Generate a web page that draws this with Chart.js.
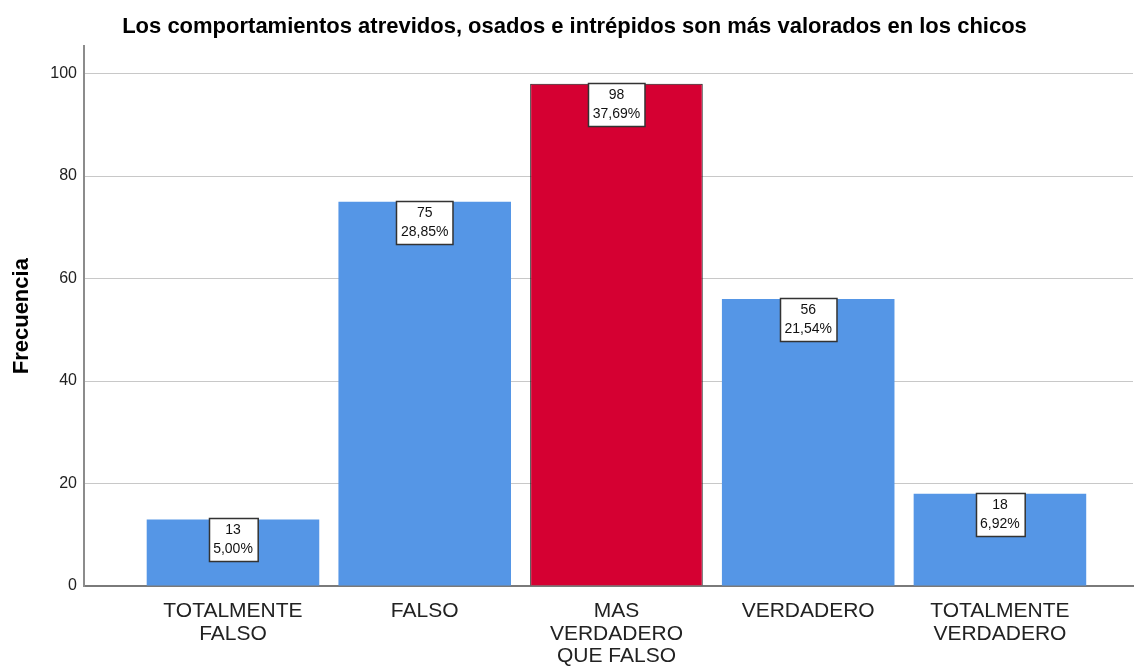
<!DOCTYPE html>
<html>
<head>
<meta charset="utf-8">
<script src="https://cdn.jsdelivr.net/npm/chart.js@4.4.1/dist/chart.umd.min.js"></script>
<style>
  body { margin: 0; background: #fff; }
</style>
</head>
<body>
<canvas id="barChart" width="1134" height="666"></canvas>
<script>
var categories = [
    ['TOTALMENTE', 'FALSO'],
    ['FALSO'],
    ['MAS', 'VERDADERO', 'QUE FALSO'],
    ['VERDADERO'],
    ['TOTALMENTE', 'VERDADERO']
];
var frecuencias = [13, 75, 98, 56, 18];
var yTicks = [0, 20, 40, 60, 80, 100];
var barColors = ['#5596e6', '#5596e6', '#d50032', '#5596e6', '#5596e6'];

var total = frecuencias.reduce(function (a, b) { return a + b; }, 0);
var porcentajes = frecuencias.map(function (v) {
    return (v / total * 100).toFixed(2).replace('.', ',') + '%';
});

var fuente = "'Liberation Sans', Arial, sans-serif";

// cajas blancas con frecuencia y porcentaje
var etiquetas = {
    id: 'etiquetas',
    afterDatasetsDraw: function (chart) {
        var c = chart.ctx;
        var meta = chart.getDatasetMeta(0);
        c.save();
        c.font = '14px ' + fuente;
        meta.data.forEach(function (bar, i) {
            var l1 = String(frecuencias[i]);
            var l2 = porcentajes[i];
            var w = Math.max(c.measureText(l1).width, c.measureText(l2).width) + 9;
            var h = 43;
            var x = Math.round(bar.x - w / 2) + 0.5;
            var y = Math.round(bar.y) - 0.5;
            c.fillStyle = '#fff';
            c.fillRect(x, y, w, h);
            c.strokeStyle = '#333';
            c.lineWidth = 1.5;
            c.strokeRect(x, y, w, h);
            c.fillStyle = '#111';
            c.textAlign = 'center';
            c.textBaseline = 'middle';
            c.fillText(l1, bar.x, y + 12);
            c.fillText(l2, bar.x, y + 31);
        });
        c.restore();
    }
};

var ctx = document.getElementById('barChart').getContext('2d');
var myChart = new Chart(ctx, {
    type: 'bar',
    data: {
        datasets: [{
            data: frecuencias.map(function (v, i) { return { x: i, y: v }; }),
            backgroundColor: barColors,
            borderColor: ['#5596e6', '#5596e6', '#1a1a1a', '#5596e6', '#5596e6'],
            borderWidth: [0, 0, 1, 0, 0],
            barPercentage: 0.9,
            categoryPercentage: 1
        }]
    },
    options: {
        responsive: false,
        animation: false,
        devicePixelRatio: 1,
        layout: {
            padding: { left: 16, right: 1, top: 0, bottom: 0 }
        },
        scales: {
            x: {
                type: 'linear',
                offset: false,
                min: -0.777,
                max: 4.694,
                afterBuildTicks: function (axis) {
                    axis.ticks = axis.ticks.filter(function (t) { return Number.isInteger(t.value); });
                },
                afterFit: function (axis) { axis.height = 80; },
                ticks: {
                    stepSize: 1,
                    autoSkip: false,
                    maxRotation: 0,
                    padding: 6,
                    color: '#222',
                    font: { family: fuente, size: 21, lineHeight: 1.08 },
                    callback: function (value) { return categories[value]; }
                },
                grid: { display: false },
                border: { color: '#7a7a7a', width: 2 }
            },
            y: {
                min: 0,
                max: 105.3,
                afterBuildTicks: function (axis) {
                    axis.ticks = yTicks.map(function (v) { return { value: v }; });
                },
                afterFit: function (axis) { axis.width = 68; },
                ticks: {
                    padding: 7,
                    color: '#222',
                    font: { family: fuente, size: 16 }
                },
                grid: {
                    color: '#c8c8c8',
                    lineWidth: 1,
                    drawTicks: false
                },
                border: { color: '#8c8c8c', width: 2 },
                title: {
                    display: true,
                    text: 'Frecuencia',
                    color: '#000',
                    font: { family: fuente, size: 22, weight: 'bold' },
                    padding: { top: -7, bottom: 0 }
                }
            }
        },
        plugins: {
            legend: {
                display: false
            },
            tooltip: { enabled: false },
            title: {
                display: true,
                text: 'Los comportamientos atrevidos, osados e intrépidos son más valorados en los chicos',
                color: '#000',
                font: { family: fuente, size: 22, weight: 'bold' },
                padding: { top: 14, bottom: 6 }
            }
        }
    },
    plugins: [etiquetas]
});
</script>
</body>
</html>
